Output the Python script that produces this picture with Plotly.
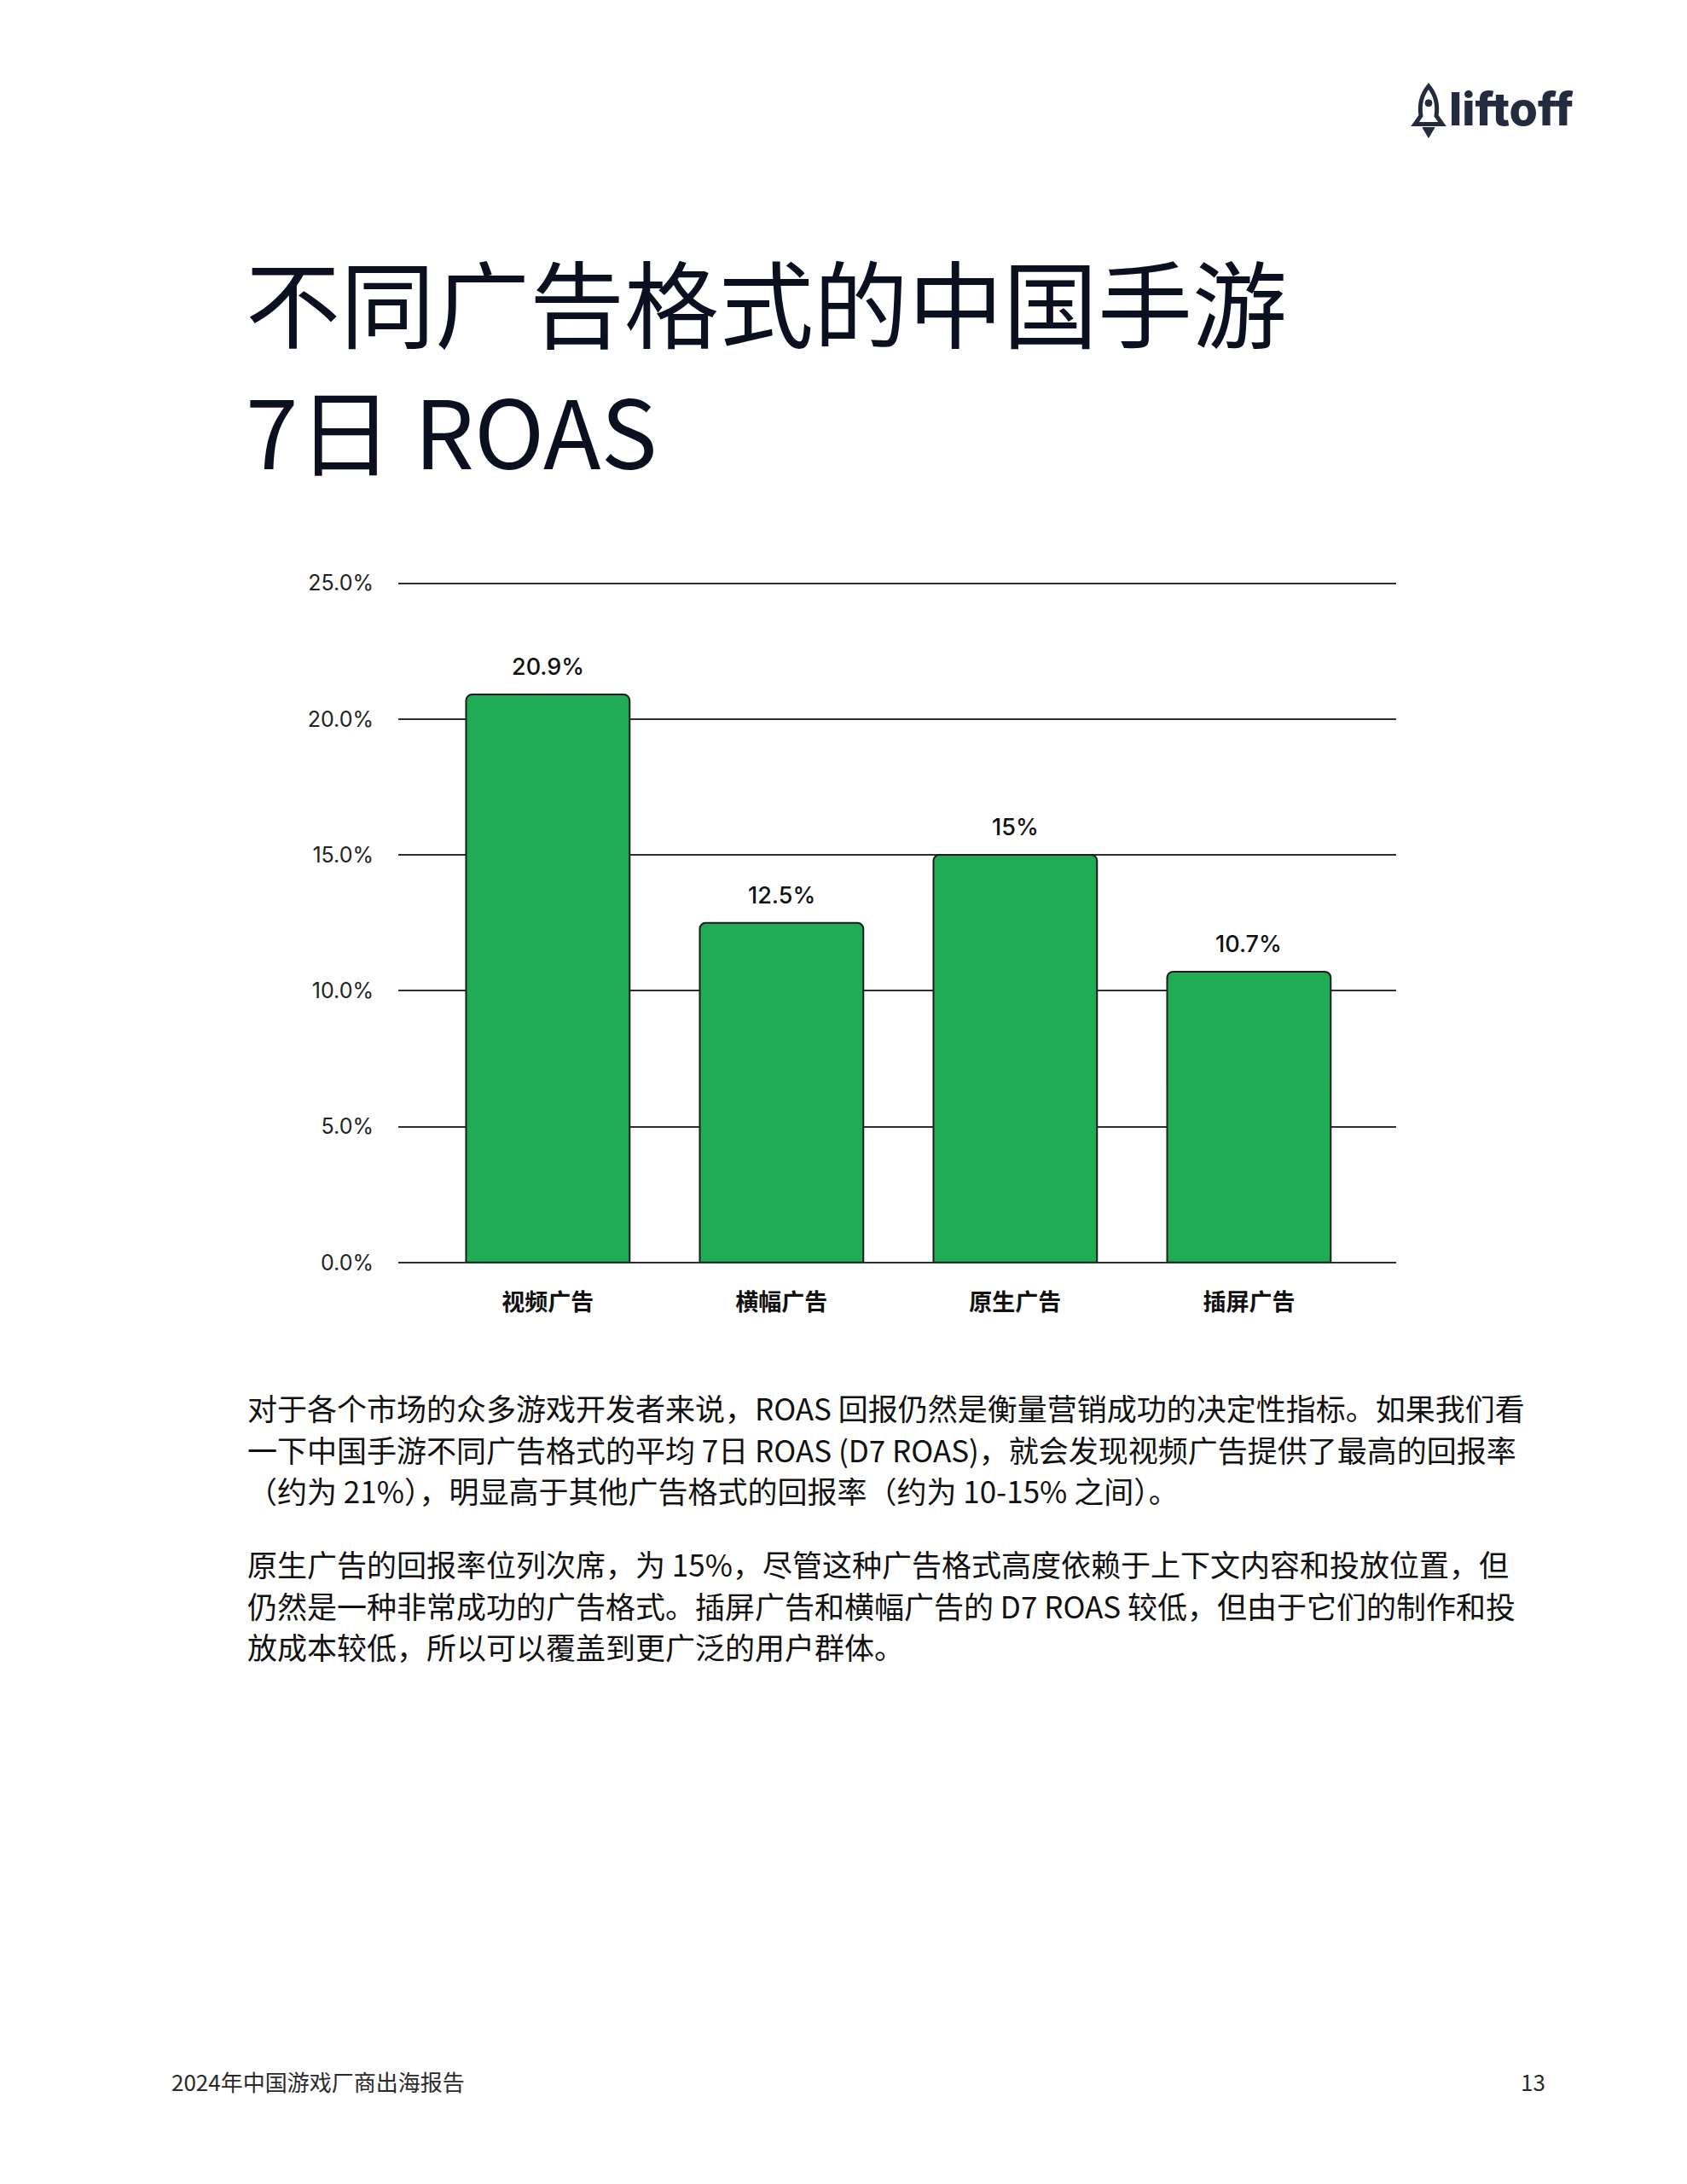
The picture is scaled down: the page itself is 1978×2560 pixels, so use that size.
import plotly.graph_objects as go

W, H = 1978, 2560

categories = ["视频广告", "横幅广告", "原生广告", "插屏广告"]
roas_values = [20.9, 12.5, 15.0, 10.7]
y_ticks = [0, 5, 10, 15, 20, 25]
y_tick_labels = ["0.0%", "5.0%", "10.0%", "15.0%", "20.0%", "25.0%"]

title_lines = ["不同广告格式的中国手游", "7日 ROAS"]
body_lines = [
    "对于各个市场的众多游戏开发者来说，ROAS 回报仍然是衡量营销成功的决定性指标。如果我们看",
    "一下中国手游不同广告格式的平均 7日 ROAS (D7 ROAS)，就会发现视频广告提供了最高的回报率",
    "（约为 21%），明显高于其他广告格式的回报率（约为 10-15% 之间）。",
    "原生广告的回报率位列次席，为 15%，尽管这种广告格式高度依赖于上下文内容和投放位置，但",
    "仍然是一种非常成功的广告格式。插屏广告和横幅广告的 D7 ROAS 较低，但由于它们的制作和投",
    "放成本较低，所以可以覆盖到更广泛的用户群体。",
]
footer_left = "2024年中国游戏厂商出海报告"
footer_right = "13"
logo_text = "liftoff"

CJK = "Noto Sans CJK SC"
NAVY = "#0b1020"


def px(x):
    return x / W


def py(y):
    return 1 - y / H


fig = go.Figure()
fig.add_trace(go.Bar(
    x=categories, y=roas_values, width=0.70,
    marker=dict(color="#20ab55", line=dict(color="#1c1c1c", width=2), cornerradius=7),
    hoverinfo="skip",
))

ann = []
for c, v in zip(categories, roas_values):
    ann.append(dict(x=c, y=v, xref="x", yref="y", text=f"{v:g}%", showarrow=False,
                    yanchor="bottom", yshift=14,
                    font=dict(family="Inter", size=27, color="#111111", weight=500)))

# title
title_y = [342, 494]
for t, yy in zip(title_lines, title_y):
    ann.append(dict(x=px(286), y=py(yy), xref="paper", yref="paper", text=t, showarrow=False,
                    xanchor="left", yanchor="middle",
                    font=dict(family=CJK, size=111, color=NAVY)))

# body
body_y = [1655, 1704, 1753, 1840, 1889, 1938]
for t, yy in zip(body_lines, body_y):
    ann.append(dict(x=px(288), y=py(yy), xref="paper", yref="paper", text=t, showarrow=False,
                    xanchor="left", yanchor="middle",
                    font=dict(family=CJK, size=35, color="#111111")))

# footer
ann.append(dict(x=px(199), y=py(2453), xref="paper", yref="paper", text=footer_left, showarrow=False,
                xanchor="left", yanchor="middle", font=dict(family=CJK, size=26, color="#2a2a2a")))
ann.append(dict(x=px(1814), y=py(2453), xref="paper", yref="paper", text=footer_right, showarrow=False,
                xanchor="right", yanchor="middle", font=dict(family=CJK, size=26, color="#2a2a2a")))

# logo text
ann.append(dict(x=px(1697), y=py(116), xref="paper", yref="paper", text=logo_text, showarrow=False,
                xanchor="left", yanchor="middle",
                font=dict(family="Inter", size=54, color="#232b3e", weight=800)))


def P(x, y):
    return f"{px(x):.5f},{py(y):.5f}"


rocket = ("M " + P(1675, 89) + " C " + P(1667, 99) + " " + P(1664, 112) + " " + P(1666, 124)
          + " L " + P(1659, 134) + " L " + P(1691, 134) + " L " + P(1684, 124)
          + " C " + P(1686, 112) + " " + P(1683, 99) + " " + P(1675, 89) + " Z")
flame = "M " + P(1668, 138) + " L " + P(1682, 138) + " L " + P(1675, 150) + " Z"
shapes = [
    dict(type="path", xref="paper", yref="paper", path=rocket,
         line=dict(color="#232b3e", width=5), fillcolor="rgba(0,0,0,0)"),
    dict(type="path", xref="paper", yref="paper", path=flame,
         line=dict(color="#232b3e", width=1), fillcolor="#232b3e"),
    dict(type="circle", xref="paper", yref="paper", x0=px(1671), x1=px(1679), y0=py(113), y1=py(105),
         line=dict(color="#232b3e", width=1), fillcolor="#232b3e"),
]

fig.update_layout(
    width=W, height=H, margin=dict(l=0, r=0, t=0, b=0),
    paper_bgcolor="white", plot_bgcolor="white",
    showlegend=False, annotations=ann, shapes=shapes,
    xaxis=dict(domain=[px(467), px(1637)], range=[-0.64, 3.63], showgrid=False, showline=False,
               zeroline=False, ticks="", ticklabelstandoff=28,
               tickfont=dict(family=CJK, size=27, color="#111111", weight="bold")),
    yaxis=dict(domain=[py(1483), py(676)], range=[0, 25.06], tickvals=y_ticks, ticktext=y_tick_labels,
               showgrid=True, gridcolor="#2f2f2f", gridwidth=2,
               zeroline=True, zerolinecolor="#2f2f2f", zerolinewidth=2, showline=False,
               ticks="", ticklabelstandoff=28,
               tickfont=dict(family="Inter", size=25, color="#222222")),
)

fig.write_html("out.html", config={"displayModeBar": False},
               post_script="document.body.style.margin='0';")
